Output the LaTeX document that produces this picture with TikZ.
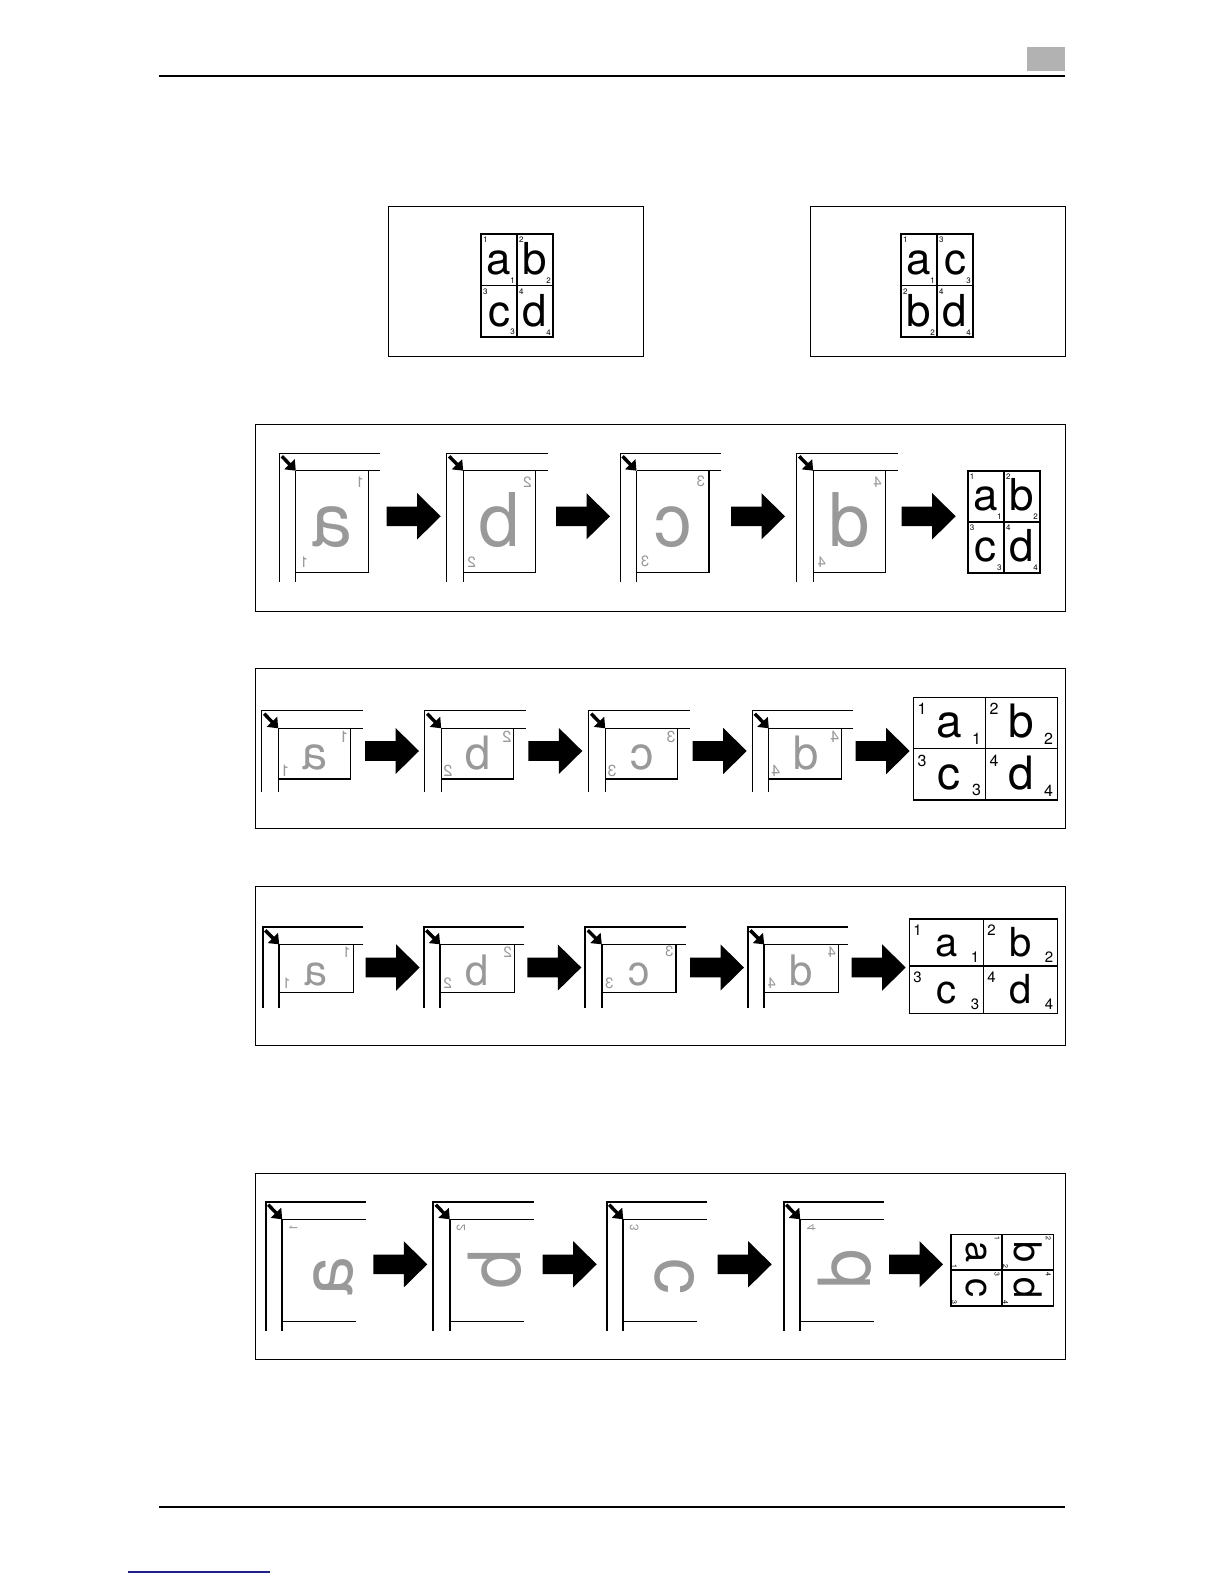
\documentclass[tikz,border=0pt]{standalone}
\usepackage{fontspec}
\setmainfont{TeX Gyre Heros}
\usetikzlibrary{arrows.meta}

\definecolor{linkblue}{RGB}{32,32,140}
\newcommand{\fs}[1]{\fontsize{#1}{#1}\selectfont}

% platen corner: #1 outer x, #2 top y, #3 inner y, #4 end of lines, #5 bottom y,
% #6 outer style, #7 inner horizontal style, #8 inner vertical style
\newcommand{\platen}[8]{%
  \draw[#6] (#4,#2) -- (#1,#2) -- (#1,#5);
  \draw[#7] (#4,#3) -- (#1+16.5,#3);
  \draw[#8] (#1+16.5,#3) -- (#1+16.5,#5);
  \draw[corner] (#1+2.5,#2+3) -- (#1+16.5,#3);
}

% big black arrow: #1 left x, #2 centre y
\newcommand{\blockarrow}[2]{%
  \fill[black] (#1,#2-9.8) -- ++(30.5,0) -- ++(0,-13.3) -- ++(23.5,23.1)
    -- ++(-23.5,23.1) -- ++(0,-13.3) -- ++(-30.5,0) -- cycle;
}

% 2x2 result page: #1 name, #2 x, #3 y, #4 cell w, #5 cell h,
% #6 letter size, #7 number size, #8 cells
\newcommand{\upgrid}[8]{%
  \draw[gridline] (#2,#3) rectangle ++(2*#4,2*#5);
  \draw[gridline] (#2+#4,#3) -- ++(0,2*#5) (#2,#3+#5) -- ++(2*#4,0);
  \foreach \ci/\ri/\lt/\nm in {#8} {
    \node[font=\fs{#6}, anchor=base, inner sep=0pt, name=#1\lt]
      at (#2+\ci*#4+0.5*#4, #3+\ri*#5+0.79*#5) {\lt};
    \node[font=\fs{#7}, inner sep=0pt, name=#1\lt tl]
      at (#2+\ci*#4+1.1*#7, #3+\ri*#5+1.5*#7) {\nm};
    \node[font=\fs{#7}, inner sep=0pt, name=#1\lt br]
      at (#2+\ci*#4+#4-1.1*#7, #3+\ri*#5+#5-1.2*#7) {\nm};
  }
}

\begin{document}
\begin{tikzpicture}[
  x=0.5pt, y=-0.5pt,
  frame/.style={draw, line width=0.5pt},
  glass/.style={line width=0.5pt},
  heavy/.style={line width=0.9pt},
  paper/.style={line width=0.65pt},
  gridline/.style={line width=0.8pt},
  corner/.style={line width=1.7pt, -{Triangle[length=4.5pt, width=7pt]}},
  ghost/.style={text=black!40, inner sep=0pt},
  mirror/.style={ghost, xscale=-1},
  turned/.style={ghost, rotate=90, xscale=-1}
]
  \fill[white] (0,0) rectangle (1224,1584);
  \useasboundingbox (0,0) rectangle (1224,1584);

  % page head and foot
  \fill[black!30] (1027,47) rectangle (1065,71);
  \draw[line width=0.7pt] (159,76) -- (1065,76);
  \draw[line width=0.7pt] (159,1507) -- (1065,1507);
  \draw[linkblue, line width=0.6pt] (128,1572) -- (270,1572);

  % two layouts
  \draw[frame] (388,206) rectangle (643,356);
  \upgrid{ga}{481}{234}{36}{51.5}{22}{4}{0/0/a/1, 1/0/b/2, 0/1/c/3, 1/1/d/4}
  \draw[frame] (810,206) rectangle (1065,356);
  \upgrid{gb}{901}{234}{36}{51.5}{22}{4}{0/0/a/1, 1/0/c/3, 0/1/b/2, 1/1/d/4}

  % portrait originals
  \draw[frame] (255,424) rectangle (1065,611);
  \foreach \xo/\lt/\nm in {279.3/a/1, 446.7/b/2, 620/c/3, 796.7/d/4} {
    \platen{\xo}{453.3}{470.7}{\xo+101}{582.3}{glass}{paper}{glass}
    \draw[paper] (\xo+89,470.7) |- (\xo+16.5,572.7);
    \node[mirror, font=\fs{37}, anchor=base, name=pa\lt] at (\xo+52.7,546) {\lt};
    \node[mirror, font=\fs{7.5}, name=pa\lt tr] at (\xo+80.7,481.7) {\nm};
    \node[mirror, font=\fs{7.5}, name=pa\lt bl] at (\xo+25,561.7) {\nm};
  }
  \foreach \xa in {386.7, 556, 731, 901.7} {\blockarrow{\xa}{516.3}}
  \upgrid{ra}{967.7}{470.7}{36.15}{51}{22}{4}{0/0/a/1, 1/0/b/2, 0/1/c/3, 1/1/d/4}

  % landscape originals
  \draw[frame] (255,668) rectangle (1065,828);
  \foreach \xo/\lt/\nm in {261.7/a/1, 424.7/b/2, 588.7/c/3, 752.3/d/4} {
    \platen{\xo}{710.7}{728.3}{\xo+101}{792.3}{glass}{paper}{glass}
    \draw[paper] (\xo+89,728.3) |- (\xo+16.5,779);
    \node[mirror, font=\fs{23}, anchor=base, name=pb\lt] at (\xo+53,769) {\lt};
    \node[mirror, font=\fs{8}, name=pb\lt tr] at (\xo+82.3,737.3) {\nm};
    \node[mirror, font=\fs{8}, name=pb\lt bl] at (\xo+23.3,771) {\nm};
  }
  \foreach \xa in {365, 528.3, 692.7, 855.7} {\blockarrow{\xa}{751}}
  \upgrid{rb}{913.3}{697.3}{72}{51.35}{23}{8}{0/0/a/1, 1/0/b/2, 0/1/c/3, 1/1/d/4}

  \draw[frame] (255,886) rectangle (1065,1045);
  \foreach \xo/\lt/\nm in {262.7/a/1, 423.7/b/2, 585.3/c/3, 747.7/d/4} {
    \platen{\xo}{927.3}{944.3}{\xo+100.6}{1008.3}{heavy}{glass}{heavy}
    \draw[paper] (\xo+90.6,944.3) |- (\xo+16.5,992.3);
    \node[mirror, font=\fs{21}, anchor=base, name=pc\lt] at (\xo+53.5,985) {\lt};
    \node[mirror, font=\fs{7.5}, name=pc\lt tr] at (\xo+84,951.7) {\nm};
    \node[mirror, font=\fs{7.5}, name=pc\lt bl] at (\xo+24,983.3) {\nm};
  }
  \foreach \xa in {365.7, 527.3, 690, 851.7} {\blockarrow{\xa}{967.5}}
  \upgrid{rc}{909.3}{919}{74}{47.15}{20}{7.5}{0/0/a/1, 1/0/b/2, 0/1/c/3, 1/1/d/4}

  % turned originals
  \draw[frame] (255,1173) rectangle (1065,1359);
  \foreach \xo/\lt/\nm/\dx/\dy in {265.7/a/1/67.6/1276, 433.3/b/2/61.7/1270,
                                   606.7/c/3/68.3/1276.7, 783.7/d/4/60.6/1270} {
    \platen{\xo}{1201.7}{1219.3}{\xo+100.5}{1330.7}{heavy}{glass}{heavy}
    \draw[paper] (\xo+16.5,1321.7) -- (\xo+90.3,1321.7);
    \node[turned, font=\fs{36}, name=pd\lt] at (\xo+\dx,\dy) {\lt};
    \node[turned, font=\fs{6}, name=pd\lt tl] at (\xo+27.6,1228.3) {\nm};
  }
  \foreach \xa in {373.3, 542.7, 717.7, 889} {\blockarrow{\xa}{1264.3}}
  \draw[gridline] (950.7,1234.3) rectangle (1053.3,1306);
  \draw[gridline] (1002,1234.3) -- (1002,1306) (950.7,1270.15) -- (1053.3,1270.15);
  \foreach \ci/\ri/\lt/\nm in {0/0/a/1, 1/0/b/2, 0/1/c/3, 1/1/d/4} {
    \node[font=\fs{19}, rotate=-90, inner sep=0pt, name=rd\lt]
      at (950.7+\ci*51.3+25.65, 1234.3+\ri*35.85+17.9) {\lt};
    \node[font=\fs{3.5}, rotate=-90, inner sep=0pt, name=rd\lt tr]
      at (950.7+\ci*51.3+46.3, 1234.3+\ri*35.85+4) {\nm};
    \node[font=\fs{3.5}, rotate=-90, inner sep=0pt, name=rd\lt bl]
      at (950.7+\ci*51.3+3.6, 1234.3+\ri*35.85+32.5) {\nm};
  }
\end{tikzpicture}
\end{document}
